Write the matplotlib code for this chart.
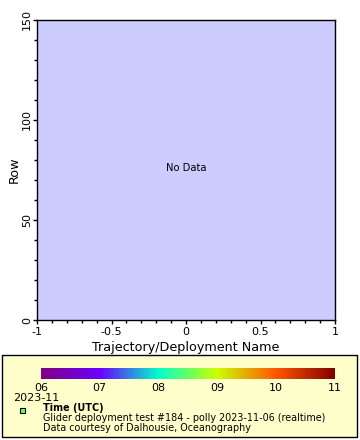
import numpy as np
import matplotlib
matplotlib.use("Agg")
import matplotlib.pyplot as plt
from matplotlib.colors import LinearSegmentedColormap, Normalize
from matplotlib.colorbar import ColorbarBase
from matplotlib.patches import Rectangle

# data (empty plot, only the ranges and the colour scale)
x_range = [-1, 1]
y_range = [0, 150]
x_ticks = [-1, -0.5, 0, 0.5, 1]
x_tick_labels = ["-1", "-0.5", "0", "0.5", "1"]
y_ticks = [0, 50, 100, 150]
day_ticks = [6, 7, 8, 9, 10, 11]
day_labels = ["06", "07", "08", "09", "10", "11"]
cmap_colors = ["#800080", "#6a00ff", "#00ffcc", "#ccff00", "#ff5500", "#800000"]

W, H = 360, 440
fig = plt.figure(figsize=(W / 100, H / 100), dpi=100)
fig.patch.set_facecolor("white")

def fx(px):
    return px / W

def fy(py):
    return 1 - py / H

# main axes
ax = fig.add_axes([fx(37), fy(320), fx(335) - fx(37), fy(20) - fy(320)])
ax.set_facecolor("#ccccff")
ax.set_xlim(x_range)
ax.set_ylim(y_range)
ax.set_xticks(x_ticks)
ax.set_xticklabels(x_tick_labels)
ax.set_yticks(y_ticks)
ax.set_yticklabels([str(v) for v in y_ticks], rotation=90, va="center")
ax.set_xticks(np.arange(-1, 1.01, 0.1), minor=True)
ax.set_yticks(np.arange(0, 151, 10), minor=True)
ax.tick_params(which="major", length=3.2, width=1, labelsize=8, pad=1.5)
ax.tick_params(axis="y", which="major", pad=0.5)
ax.tick_params(which="minor", length=2.2, width=1)
for s in ax.spines.values():
    s.set_linewidth(1)
ax.set_xlabel("Trajectory/Deployment Name", fontsize=9.2, labelpad=3)
ax.set_ylabel("Row", fontsize=9.2, labelpad=1)
ax.text(0, 76, "No Data", ha="center", va="center", fontsize=7.2)

# legend box
fig.patches.append(Rectangle((fx(2), fy(437)), fx(357) - fx(2), fy(355) - fy(437),
                             transform=fig.transFigure, facecolor="#ffffcc",
                             edgecolor="black", linewidth=1, zorder=-1))

cax = fig.add_axes([fx(41), fy(379), fx(335) - fx(41), fy(368) - fy(379)])
cmap = LinearSegmentedColormap.from_list("rainbow2", cmap_colors)
cb = ColorbarBase(cax, cmap=cmap, norm=Normalize(day_ticks[0], day_ticks[-1]),
                  orientation="horizontal", ticks=day_ticks)
cb.outline.set_visible(False)
cb.set_ticklabels(day_labels)
cax.tick_params(length=0, labelsize=8, pad=3)

fig.text(fx(13), fy(398), "2023-11", fontsize=8, va="center", ha="left")
fig.patches.append(Rectangle((fx(19.5), fy(412.5)), fx(5), fy(407.5) - fy(412.5),
                             transform=fig.transFigure, facecolor="#66ff66",
                             edgecolor="black", linewidth=0.8))
fig.text(fx(43), fy(408), "Time (UTC)", fontsize=6.9, fontweight="bold", va="center")
fig.text(fx(43), fy(418), "Glider deployment test #184 - polly 2023-11-06 (realtime)",
         fontsize=6.9, va="center")
fig.text(fx(43), fy(428), "Data courtesy of Dalhousie, Oceanography",
         fontsize=6.9, va="center")

fig.savefig("out.png", dpi=100)
